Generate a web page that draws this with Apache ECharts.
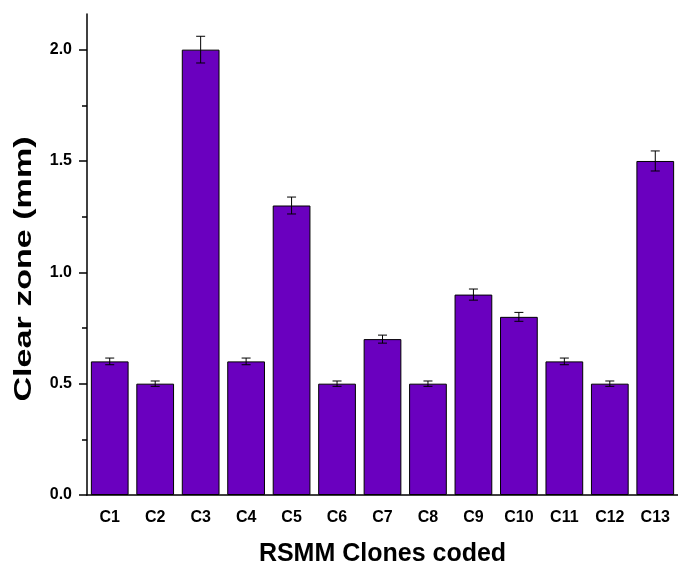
<!DOCTYPE html>
<html>
<head>
<meta charset="utf-8">
<script src="https://cdn.jsdelivr.net/npm/echarts@6/dist/echarts.min.js"></script>
<style>
  html, body { margin: 0; padding: 0; background: #fff; }
  #chart { width: 678px; height: 566px; }
</style>
</head>
<body>
<div id="chart"></div>
<script>
// clones and clear zone values (mm)
var clones = ["C1", "C2", "C3", "C4", "C5", "C6", "C7", "C8", "C9", "C10", "C11", "C12", "C13"];
var clearZone = [0.6, 0.5, 2.0, 0.6, 1.3, 0.5, 0.7, 0.5, 0.9, 0.8, 0.6, 0.5, 1.5];
var errors = [0.015, 0.012, 0.06, 0.015, 0.038, 0.012, 0.018, 0.012, 0.025, 0.02, 0.015, 0.012, 0.045];
var yTicks = [0, 0.5, 1.0, 1.5, 2.0];

var chart = echarts.init(document.getElementById("chart"));
var font = "Liberation Sans";

var errData = clones.map(function (c, i) {
  return [i, clearZone[i] - errors[i], clearZone[i] + errors[i]];
});

var option = {
  animation: false,
  grid: { left: 87, right: 0, top: 14, bottom: 71, containLabel: false, outerBoundsMode: "none" },
  // y title drawn as graphic so it can be stretched like the original
  graphic: [
    {
      type: "text",
      x: 24,
      y: 269,
      rotation: Math.PI / 2,
      scaleX: 1.42,
      style: {
        text: "Clear zone (mm)",
        font: "bold 24px 'Liberation Sans'",
        fill: "#000",
        align: "center",
        verticalAlign: "middle"
      }
    }
  ],
  xAxis: [
    {
      type: "category",
      data: clones,
      name: "RSMM Clones coded",
      nameLocation: "middle",
      nameGap: 47,
      nameTextStyle: { fontFamily: font, fontWeight: "bold", fontSize: 25, color: "#000" },
      axisLine: { lineStyle: { color: "#000", width: 1.5 } },
      axisTick: { alignWithLabel: true, length: 7, lineStyle: { color: "#000", width: 1.5 } },
      axisLabel: { fontFamily: font, fontWeight: "bold", fontSize: 16, color: "#000", margin: 15 },
      splitLine: { show: false }
    },
    {
      // short ticks on the boundaries between categories
      type: "category",
      data: clones,
      position: "bottom",
      axisLine: { show: false },
      axisTick: { length: 4, lineStyle: { color: "#000", width: 1.2 } },
      axisLabel: { show: false },
      splitLine: { show: false }
    }
  ],
  yAxis: {
    type: "value",
    min: 0,
    max: 2.16,
    interval: 0.5,
    axisLine: { show: true, lineStyle: { color: "#000", width: 1.5 } },
    axisTick: { show: true, length: 8, customValues: yTicks, lineStyle: { color: "#000", width: 1.5 } },
    minorTick: { show: true, splitNumber: 2, length: 5, lineStyle: { color: "#000", width: 1.5 } },
    axisLabel: {
      fontFamily: font, fontWeight: "bold", fontSize: 16, color: "#000", margin: 15,
      customValues: yTicks,
      formatter: function (v) { return v.toFixed(1); }
    },
    splitLine: { show: false }
  },
  series: [
    {
      type: "bar",
      data: clearZone,
      barWidth: "83%",
      itemStyle: { color: "#6a00bf", borderColor: "#000", borderWidth: 1 }
    },
    {
      type: "custom",
      data: errData,
      z: 10,
      renderItem: function (params, api) {
        var lo = api.coord([api.value(0), api.value(1)]);
        var hi = api.coord([api.value(0), api.value(2)]);
        var hw = 4.5;
        var st = { stroke: "#000", lineWidth: 1 };
        return {
          type: "group",
          children: [
            { type: "line", shape: { x1: hi[0], y1: hi[1], x2: lo[0], y2: lo[1] }, style: st },
            { type: "line", shape: { x1: hi[0] - hw, y1: hi[1], x2: hi[0] + hw, y2: hi[1] }, style: st },
            { type: "line", shape: { x1: lo[0] - hw, y1: lo[1], x2: lo[0] + hw, y2: lo[1] }, style: st }
          ]
        };
      }
    }
  ]
};
chart.setOption(option);
</script>
</body>
</html>
